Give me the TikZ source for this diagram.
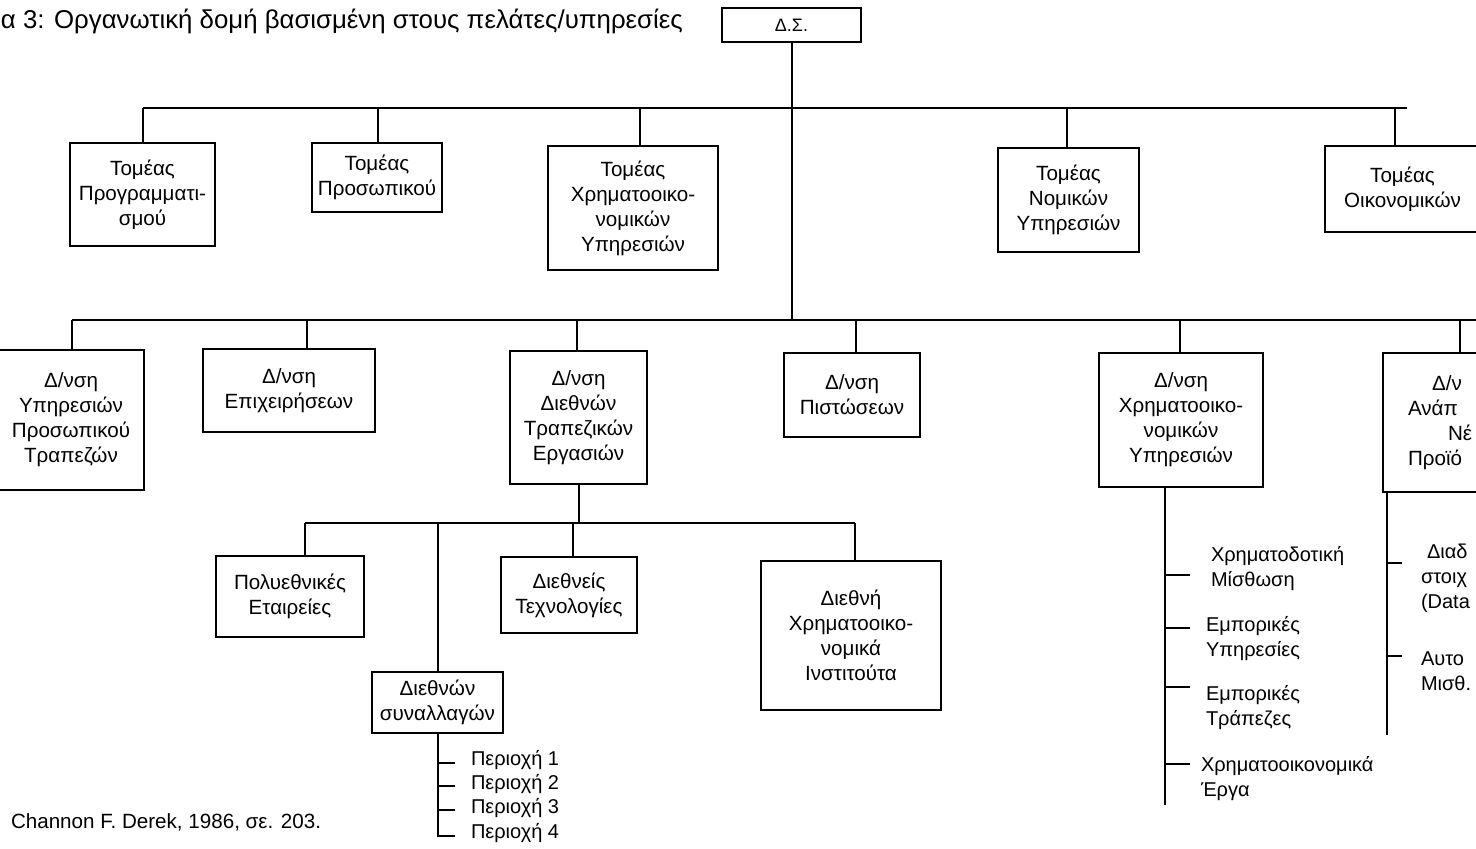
\documentclass[tikz,border=0pt]{standalone}
\usepackage{fontspec}
\setmainfont{Liberation Sans}
\begin{document}
\begin{tikzpicture}[x=0.5pt,y=-0.5pt,line width=1pt,
  box/.style={draw,line width=1pt,align=center,inner sep=0pt,font=\fontsize{10.3}{12.5}\selectfont},
  lbl/.style={anchor=west,align=left,inner sep=0pt,font=\fontsize{10}{12.5}\selectfont},
  conn/.style={line width=1pt}]
\useasboundingbox (0,0) rectangle (1476,848);
\clip (0,0) rectangle (1476,848);
% title and source
\node[anchor=base west,inner sep=0pt,font=\fontsize{12.9}{15}\selectfont] (title) at (0,28) {α 3: Οργανωτική δομή βασισμένη στους πελάτες/υπηρεσίες};
\node[anchor=base west,inner sep=0pt,font=\fontsize{10.3}{12}\selectfont] (src) at (10,828) {Channon F. Derek, 1986, σε. 203.};
% top
\node[box,minimum width=69.5pt,minimum height=17pt,font=\fontsize{9}{11}\selectfont] (ds) at (791.5,25) {Δ.Σ.};
% first level
\node[box,minimum width=72.5pt,minimum height=51.5pt] (t1) at (142.5,194.5) {Τομέας\\Προγραμματι-\\σμού};
\node[box,minimum width=65pt,minimum height=34.5pt] (t2) at (377,177.5) {Τομέας\\Προσωπικού};
\node[box,minimum width=85pt,minimum height=62pt] (t3) at (633,208) {Τομέας\\Χρηματοοικο-\\νομικών\\Υπηρεσιών};
\node[box,minimum width=70.5pt,minimum height=52pt] (t4) at (1068.5,200) {Τομέας\\Νομικών\\Υπηρεσιών};
\node[box,minimum width=77.5pt,minimum height=43pt] (t5) at (1402.5,189) {Τομέας\\Οικονομικών};
% second level
\node[box,minimum width=73pt,minimum height=70pt] (d1) at (71,420) {Δ/νση\\Υπηρεσιών\\Προσωπικού\\Τραπεζών};
\node[box,minimum width=86pt,minimum height=41.5pt] (d2) at (289,390.5) {Δ/νση\\Επιχειρήσεων};
\node[box,minimum width=68.5pt,minimum height=66.5pt] (d3) at (578.5,417.5) {Δ/νση\\Διεθνών\\Τραπεζικών\\Εργασιών};
\node[box,minimum width=68pt,minimum height=42pt] (d4) at (852,395) {Δ/νση\\Πιστώσεων};
\node[box,minimum width=82pt,minimum height=67pt] (d5) at (1181,420) {Δ/νση\\Χρηματοοικο-\\νομικών\\Υπηρεσιών};
\node[box,minimum width=78.5pt,minimum height=69.5pt,text width=78.5pt,align=left] (d6) at (1461.5,422.5) {\hspace*{24.5pt}Δ/ν\\\hspace*{12.5pt}Ανάπ\\\hspace*{32.5pt}Νέ\\\hspace*{12.5pt}Προϊό};
% third level
\node[box,minimum width=74pt,minimum height=40.5pt] (c1) at (290,596.5) {Πολυεθνικές\\Εταιρείες};
\node[box,minimum width=65.5pt,minimum height=30.5pt] (c2) at (437.5,702.5) {Διεθνών\\συναλλαγών};
\node[box,minimum width=68pt,minimum height=38pt] (c3) at (569,595) {Διεθνείς\\Τεχνολογίες};
\node[box,minimum width=90pt,minimum height=74.5pt] (c4) at (851,635.5) {Διεθνή\\Χρηματοοικο-\\νομικά\\Ινστιτούτα};
% regions
\node[lbl] (p1) at (470,760) {Περιοχή 1};
\node[lbl] (p2) at (470,784) {Περιοχή 2};
\node[lbl] (p3) at (470,808) {Περιοχή 3};
\node[lbl] (p4) at (470,833) {Περιοχή 4};
% right lists
\node[lbl] (f1) at (1210,569) {Χρηματοδοτική\\Μίσθωση};
\node[lbl] (f2) at (1205,638.5) {Εμπορικές\\Υπηρεσίες};
\node[lbl] (f3) at (1205,708) {Εμπορικές\\Τράπεζες};
\node[lbl] (f4) at (1200,778.5) {Χρηματοοικονομικά\\Έργα};
\node[lbl] (g1) at (1420,578.5) {\hspace*{3pt}Διαδ\\στοιχ\\(Data};
\node[lbl] (g2) at (1420,671.5) {Αυτο\\Μισθ.};
% buses
\coordinate (a1) at (143,108);
\coordinate (a2) at (378,108);
\coordinate (a3) at (640,108);
\coordinate (a4) at (1067,108);
\coordinate (a5) at (1395,108);
\coordinate (aR) at (1407,108);
\coordinate (b1) at (72,320);
\coordinate (b2) at (307,320);
\coordinate (b3) at (577,320);
\coordinate (bm) at (791.5,320);
\coordinate (b4) at (856,320);
\coordinate (b5) at (1180,320);
\coordinate (b6) at (1460,320);
\coordinate (bR) at (1480,320);
\coordinate (e1) at (305,523);
\coordinate (e2) at (437.5,523);
\coordinate (e3) at (578.5,523);
\coordinate (e4) at (573,523);
\coordinate (e5) at (855,523);
\draw[conn] (ds.south) -- (bm);
\draw[conn] (a1) -- (aR);
\foreach \j/\n in {a1/t1,a2/t2,a3/t3,a4/t4,a5/t5}{\draw[conn] (\j) -- (\j |- \n.north);}
\draw[conn] (b1) -- (bR);
\foreach \j/\n in {b1/d1,b2/d2,b3/d3,b4/d4,b5/d5,b6/d6}{\draw[conn] (\j) -- (\j |- \n.north);}
\draw[conn] (d3.south) -- (e3);
\draw[conn] (e1) -- (e5);
\draw[conn] (e1) -- (e1 |- c1.north);
\draw[conn] (e2) -- (c2.north);
\draw[conn] (e4) -- (e4 |- c3.north);
\draw[conn] (e5) -- (e5 |- c4.north);
% region bracket
\coordinate (q0) at (437.5,836);
\coordinate (q4) at (455,836);
\draw[conn] (c2.south) -- (q0) -- (q4);
\foreach \y in {763,786,810}{\draw[conn] (437.5,\y) -- (455,\y);}
% right list 1
\coordinate (r0) at (1165,487);
\coordinate (r1) at (1165,805);
\draw[conn] (r0) -- (r1);
\foreach \y in {575,628,687,764}{\draw[conn] (1165,\y) -- (1190,\y);}
% right list 2
\coordinate (s0) at (1387,492);
\coordinate (s1) at (1387,735);
\draw[conn] (s0) -- (s1);
\foreach \y in {563,656}{\draw[conn] (1387,\y) -- (1402,\y);}
\end{tikzpicture}
\end{document}
